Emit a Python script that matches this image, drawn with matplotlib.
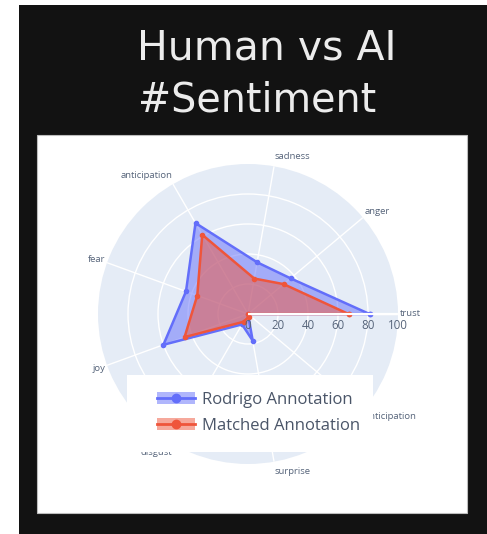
import numpy as np
import matplotlib
matplotlib.use("Agg")
import matplotlib.pyplot as plt
from matplotlib.patches import Rectangle, Patch
from matplotlib.lines import Line2D
from matplotlib.legend_handler import HandlerTuple
from matplotlib.transforms import offset_copy

# ---- data ----
categories = ["trust", "anger", "sadness", "anticipation", "fear", "joy",
              "disgust", "surprise", "anticipation"]
rodrigo = [81, 37, 35, 70, 44, 60, 8, 18, 0]
matched = [67, 31, 24, 61, 36, 45, 6, 2, 0]
series_names = ["Rodrigo Annotation", "Matched Annotation"]
radial_ticks = [0, 20, 40, 60, 80, 100]

W, H = 487, 534
fig = plt.figure(figsize=(W / 100, H / 100), dpi=100)
fig.patch.set_facecolor("white")

def fx(px):
    return px / W

def fy(py):
    return 1 - py / H

# dark background and white panel
fig.add_artist(Rectangle((fx(19), fy(534)), fx(487) - fx(19), fy(5) - fy(534),
                         transform=fig.transFigure, facecolor="#121212",
                         edgecolor="none", zorder=-3))
fig.add_artist(Rectangle((fx(37), fy(513)), fx(467) - fx(37), fy(135) - fy(513),
                         transform=fig.transFigure, facecolor="white",
                         edgecolor="#bdbdbd", lw=0.8, zorder=-2))

# title
fig.text(fx(137), fy(48), "Human vs AI", color="#ececec", fontsize=29.5,
         family="DejaVu Sans", ha="left", va="center")
fig.text(fx(138), fy(100), "#Sentiment", color="#ececec", fontsize=28.5,
         family="DejaVu Sans", ha="left", va="center")

# polar axes
cx, cy, R = 248, 314, 150
ax = fig.add_axes([fx(cx - R), fy(cy + R), 2 * R / W, 2 * R / H], polar=True)
ax.set_facecolor("#e5ecf6")
ax.spines["polar"].set_visible(False)

n = len(categories)
theta = np.arange(n) * 2 * np.pi / n
ax.set_ylim(0, 100)
ax.set_thetagrids(np.degrees(theta), labels=[""] * n)
ax.set_rgrids(radial_ticks[1:-1], labels=[""] * (len(radial_ticks) - 2))
ax.grid(True, color="white", lw=1.0)
ax.tick_params(length=0)

colors = ["#636efa", "#ef553b"]
for vals, c, z in [(rodrigo, colors[0], 2), (matched, colors[1], 3)]:
    t = np.append(theta, theta[0])
    v = np.append(vals, vals[0])
    ax.fill(t, v, color=c, alpha=0.5, lw=0, zorder=z)
    ax.plot(t, v, color=c, lw=1.8, marker="o", ms=3, zorder=z + 0.5)

# radial axis line on top
ax.plot([0, 0], [0, 100], color="white", lw=1.6, zorder=5, solid_capstyle="butt")

txt_color = "#56647a"
tr = offset_copy(ax.transData, fig=fig, y=-3.5, units="points")
for v in radial_ticks:
    ax.text(0, v, str(v), transform=tr, ha="center", va="top", fontsize=8.3,
            color=txt_color, family="Open Sans", zorder=6)

# angular labels (horizontal / vertical offsets in px from the centre)
rx, ry = 152, 160
for th, lab in zip(theta, categories):
    c, s = np.cos(th), np.sin(th)
    ha = "left" if c > 0.05 else ("right" if c < -0.05 else "center")
    ax.text(0.5 + c * rx / (2 * R), 0.5 + s * ry / (2 * R), lab,
            transform=ax.transAxes, ha=ha, va="center", fontsize=6.8,
            color=txt_color, family="Open Sans", clip_on=False)

# legend box
fig.add_artist(Rectangle((fx(127), fy(452)), fx(373) - fx(127), fy(375) - fy(452),
                         transform=fig.transFigure, facecolor="white",
                         edgecolor="none", zorder=3))
handles = []
for c in colors:
    handles.append((Patch(facecolor=c, alpha=0.5, edgecolor="none"),
                    Line2D([], [], color=c, lw=2, marker="o", ms=6)))
leg = fig.legend(handles, series_names, handler_map={tuple: HandlerTuple(ndivide=1)},
                 loc="center left", bbox_to_anchor=(fx(157), fy(412.5)),
                 frameon=False, borderpad=0, borderaxespad=0,
                 handlelength=2.3, handleheight=0.75, handletextpad=0.4,
                 labelspacing=0.6, prop={"family": "Open Sans", "size": 12})
for t in leg.get_texts():
    t.set_color("#4a5568")
leg.set_zorder(4)

fig.savefig("out.png", dpi=100)
